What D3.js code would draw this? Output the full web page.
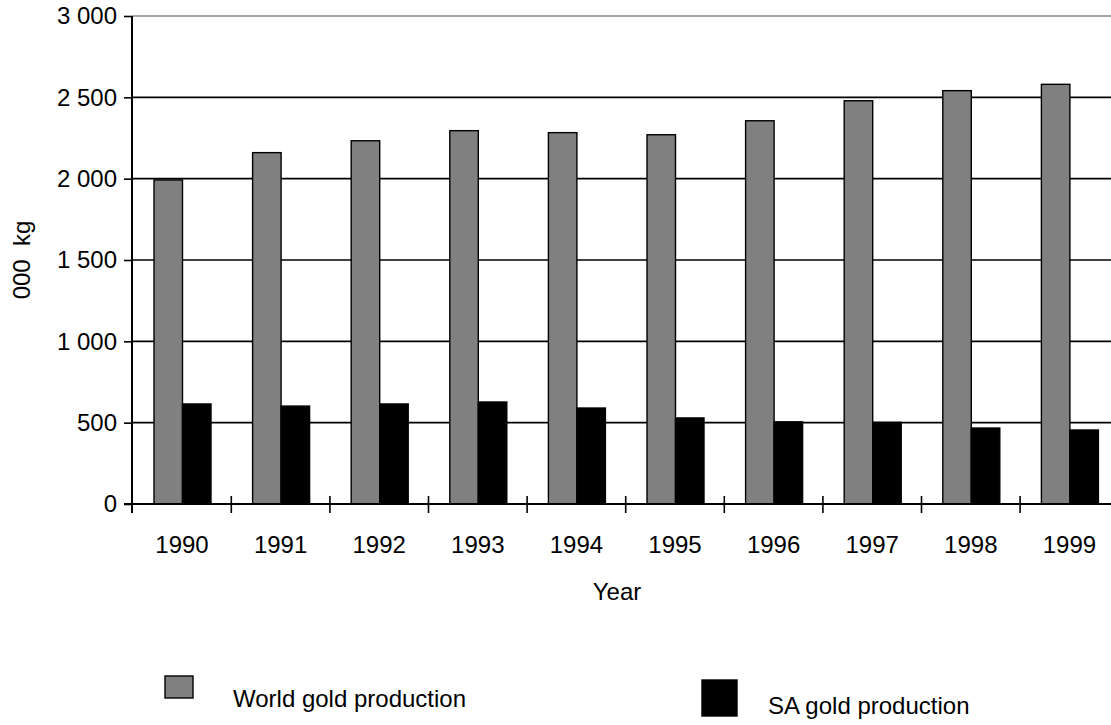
<!DOCTYPE html>
<html>
<head>
<meta charset="utf-8">
<script src="https://cdn.jsdelivr.net/npm/d3@7"></script>
<style>
body { margin: 0; background: #fff; }
text { font-family: "Liberation Sans", Arial, sans-serif; fill: #000; }
</style>
</head>
<body>
<svg width="1111" height="725"></svg>
<script>
var years = ["1990","1991","1992","1993","1994","1995","1996","1997","1998","1999"];
var world = [1992, 2160, 2233, 2295, 2283, 2270, 2356, 2479, 2541, 2580];
var sa = [615, 602, 615, 627, 590, 529, 505, 502, 467, 455];
var series = ["World gold production", "SA gold production"];
var yTicks = [0, 500, 1000, 1500, 2000, 2500, 3000];

var svg = d3.select("svg");
var fs = 24;

var x = d3.scaleBand().domain(years).range([132.7, 1118.7]);
var xs = d3.scaleBand().domain(series).range([21.3, 78.3]);
var y = d3.scaleLinear().domain([0, 3000]).range([504, 16]);
var fill = d3.scaleOrdinal().domain(series).range(["#808080", "#000000"]);

var loc = d3.formatLocale({decimal: ".", thousands: " ", grouping: [3], currency: ["", ""]});
var fmt = loc.format(",");

// gridlines
svg.append("g")
  .selectAll("line")
  .data(yTicks.slice(1))
  .enter().append("line")
  .attr("x1", 132).attr("x2", 1111)
  .attr("y1", function(d) { return y(d); })
  .attr("y2", function(d) { return y(d); })
  .attr("stroke", function(d) { return d == 3000 ? "#888" : "#000"; })
  .attr("stroke-width", 1.6);

// bars
var data = [];
years.forEach(function(yr, i) {
  data.push({year: yr, s: series[0], v: world[i]});
  data.push({year: yr, s: series[1], v: sa[i]});
});

svg.append("g")
  .selectAll("rect")
  .data(data)
  .enter().append("rect")
  .attr("x", function(d) { return x(d.year) + xs(d.s); })
  .attr("y", function(d) { return y(d.v); })
  .attr("width", xs.bandwidth())
  .attr("height", function(d) { return y(0) - y(d.v); })
  .attr("fill", function(d) { return fill(d.s); })
  .attr("stroke", "#000")
  .attr("stroke-width", 1.4);

// y axis
var yAxis = svg.append("g")
  .attr("transform", "translate(132,0)")
  .call(d3.axisLeft(y).tickValues(yTicks).tickFormat(fmt).tickSize(8).tickPadding(7));
yAxis.select(".domain").remove();
yAxis.selectAll(".tick line").attr("stroke", "#000").attr("stroke-width", 1.6);
yAxis.selectAll("text").attr("font-size", fs).style("font-family", "Liberation Sans, Arial, sans-serif");

svg.append("line")
  .attr("x1", 132).attr("x2", 132)
  .attr("y1", 16).attr("y2", 513)
  .attr("stroke", "#000").attr("stroke-width", 2);

// x axis
svg.append("line")
  .attr("x1", 124).attr("x2", 1111)
  .attr("y1", y(0)).attr("y2", y(0))
  .attr("stroke", "#000").attr("stroke-width", 2);

svg.append("g")
  .selectAll("line")
  .data(years.slice(1))
  .enter().append("line")
  .attr("x1", function(d) { return x(d); })
  .attr("x2", function(d) { return x(d); })
  .attr("y1", 496).attr("y2", 513)
  .attr("stroke", "#000").attr("stroke-width", 1.6);

svg.append("g")
  .selectAll("text")
  .data(years)
  .enter().append("text")
  .attr("x", function(d) { return x(d) + x.bandwidth() / 2; })
  .attr("y", 553)
  .attr("text-anchor", "middle")
  .attr("font-size", fs)
  .text(function(d) { return d; });

// axis titles
svg.append("text")
  .attr("x", 617).attr("y", 600)
  .attr("text-anchor", "middle")
  .attr("font-size", fs)
  .text("Year");

svg.append("text")
  .attr("transform", "translate(30,260) rotate(-90)")
  .attr("text-anchor", "middle")
  .attr("font-size", fs)
  .style("white-space", "pre")
  .text("000  kg");

// legend
var legend = [
  {s: series[0], x: 165, y: 676, w: 28, h: 22, tx: 233, ty: 707},
  {s: series[1], x: 702, y: 680, w: 35, h: 36, tx: 768, ty: 714}
];
legend.forEach(function(l) {
  svg.append("rect")
    .attr("x", l.x).attr("y", l.y)
    .attr("width", l.w).attr("height", l.h)
    .attr("fill", fill(l.s))
    .attr("stroke", "#000").attr("stroke-width", 1.4);
  svg.append("text")
    .attr("x", l.tx).attr("y", l.ty)
    .attr("font-size", fs)
    .text(l.s);
});
</script>
</body>
</html>
